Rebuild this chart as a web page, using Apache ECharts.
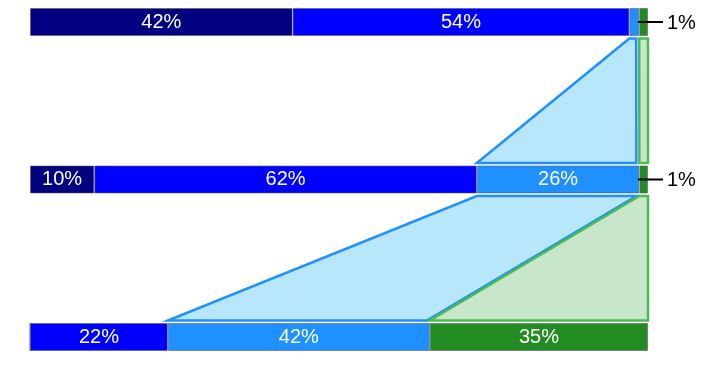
<!DOCTYPE html>
<html><head><meta charset="utf-8">
<script src="https://cdn.jsdelivr.net/npm/echarts@6/dist/echarts.min.js"></script>
<style>html,body{margin:0;padding:0;background:#fff}#c{width:710px;height:382px}</style>
</head><body><div id="c"></div>
<script>
const rows = ['Row 1', 'Row 2', 'Row 3'];
const navyValues = [42.49, 10.4, 0];
const blueValues = [54.49, 61.9, 22.3];
const dodgerValues = [1.6, 26.3, 42.4];
const greenValues = [1.42, 1.4, 35.3];
const segmentNames = ['navy', 'blue', 'dodger', 'green'];
const segmentColors = ['#000080', '#0000ff', '#1e90ff', '#228b22'];
// which segment labels are hidden inside the bar, per row
const hiddenInside = [[false, false, true, true], [false, false, false, true], [true, false, false, false]];
// labels drawn outside with leader line: [row, segment]
const outsideLabels = [[0, 3], [1, 3]];
// connectors: [fromRow, toRow, segment]
const flows = [[0, 1, 2], [0, 1, 3], [1, 2, 2], [1, 2, 3]];
const flowFill = { 2: '#b8e6fa', 3: '#c8e6c9' };
const flowStroke = { 2: '#1e90ff', 3: '#4cbb50' };
const flowRightInset = { 2: 3, 3: 0 };

const allValues = [navyValues, blueValues, dodgerValues, greenValues];
function cum(row) {
  let s = 0;
  return allValues.map(arr => { const a = s; s += arr[row]; return [a, s]; });
}
const FONT = 'Liberation Sans, Arial, sans-serif';
const chart = echarts.init(document.getElementById('c'));
const barSeries = segmentNames.map((name, si) => ({
  name, type: 'bar', stack: 'total', barWidth: 28, z: 3,
  data: allValues[si],
  itemStyle: { color: segmentColors[si], borderColor: 'rgba(90,90,90,0.55)', borderWidth: 1 },
  label: {
    show: true, position: 'inside', color: '#fff', fontSize: 20, fontFamily: FONT,
    formatter: p => hiddenInside[p.dataIndex][si] ? '' : Math.round(p.value) + '%'
  },
  emphasis: { disabled: true }
}));
const option = {
  animation: false,
  grid: { left: 30, right: 62, top: 22, bottom: 45 },
  xAxis: { type: 'value', min: 0, max: 100, show: false },
  yAxis: { type: 'category', data: rows, inverse: true, boundaryGap: false, show: false },
  series: [
    {
      type: 'custom', z: 1, silent: true,
      data: flows.map(f => [f[0], f[1], f[2]]),
      encode: { x: -1, y: -1 },
      renderItem: (params, api) => {
        const f = flows[params.dataIndex];
        const a = cum(f[0])[f[2]], b = cum(f[1])[f[2]];
        const yA = api.coord([0, f[0]])[1] + 14 + 2.5;
        const yB = api.coord([0, f[1]])[1] - 14 - 2.5;
        const ri = flowRightInset[f[2]];
        const pts = [
          [api.coord([a[0], f[0]])[0], yA],
          [api.coord([a[1], f[0]])[0] - ri, yA],
          [api.coord([b[1], f[1]])[0] - ri, yB],
          [api.coord([b[0], f[1]])[0], yB]
        ];
        return { type: 'polygon', shape: { points: pts },
          style: { fill: flowFill[f[2]], stroke: flowStroke[f[2]], lineWidth: 2.5, lineJoin: 'miter' } };
      }
    },
    ...barSeries,
    {
      type: 'custom', z: 5, silent: true,
      data: outsideLabels.map(o => [o[0], o[1]]),
      encode: { x: -1, y: -1 },
      renderItem: (params, api) => {
        const o = outsideLabels[params.dataIndex];
        const seg = cum(o[0])[o[1]];
        const p = api.coord([seg[1], o[0]]);
        return { type: 'group', children: [
          { type: 'line', shape: { x1: p[0] - 10, y1: p[1], x2: p[0] + 15, y2: p[1] }, style: { stroke: '#000', lineWidth: 2 } },
          { type: 'text', style: { x: p[0] + 19, y: p[1] + 1, text: Math.round(allValues[o[1]][o[0]]) + '%', fill: '#000', fontSize: 20, fontFamily: FONT, verticalAlign: 'middle', align: 'left' } }
        ] };
      }
    }
  ]
};
chart.setOption(option);
</script></body></html>
